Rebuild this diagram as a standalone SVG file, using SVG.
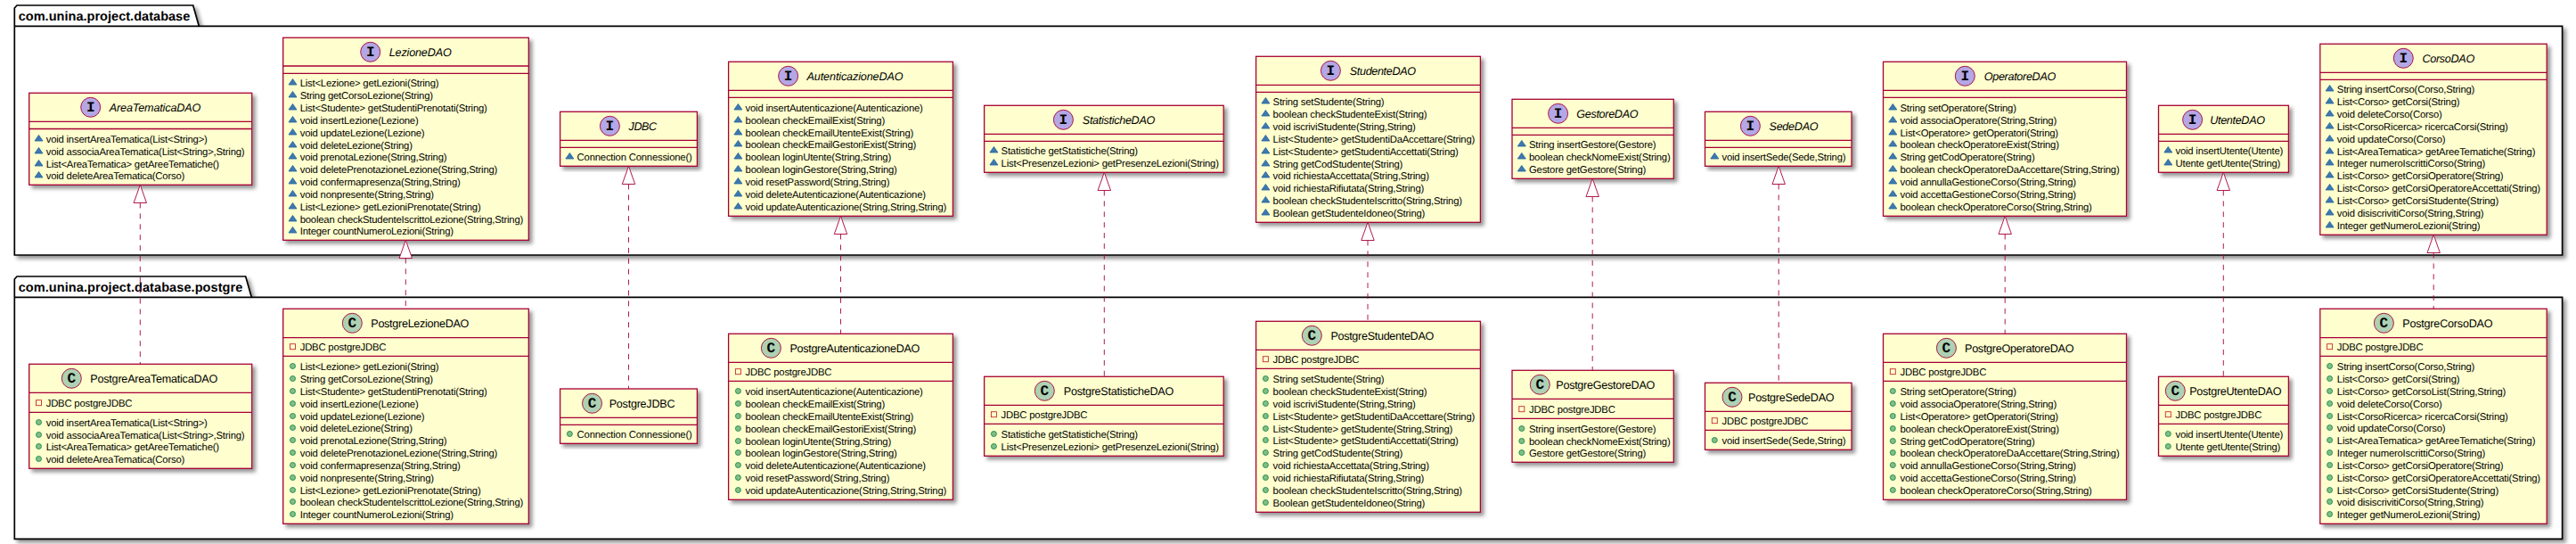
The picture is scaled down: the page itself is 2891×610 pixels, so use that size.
<svg xmlns="http://www.w3.org/2000/svg" width="2891" height="610" viewBox="0 0 2891 610">
<style>
text{font-family:"Liberation Sans","DejaVu Sans",sans-serif;fill:#000;text-rendering:geometricPrecision}
.m{font-size:11.3px;letter-spacing:-.2px}
.n{font-size:12.6px}
.i{font-style:italic}
.p{font-size:14.5px;font-weight:bold}
.gl{font-family:"Liberation Mono","DejaVu Sans Mono",monospace;font-weight:bold;font-size:16px;text-anchor:middle}
.b{fill:#FEFECE;stroke:#A80036;stroke-width:1.3;filter:url(#sh)}
.d{stroke:#A80036;stroke-width:1.3;fill:none}
.ci{fill:#B4A7E5;stroke:#A80036;stroke-width:.9}
.cc{fill:#ADD1B2;stroke:#A80036;stroke-width:.9}
.pk{fill:#fff;stroke:#000;stroke-width:1.7;filter:url(#sh)}
.pl{fill:none;stroke:#000;stroke-width:1.7}
.c{stroke:#A80036;stroke-width:.9;stroke-dasharray:5.95 5.95;fill:none}
.a{fill:#fff;stroke:#A80036;stroke-width:.9}
</style>
<defs>
<filter id="sh" x="-5%" y="-5%" width="110%" height="115%"><feDropShadow dx="3.5" dy="3.5" stdDeviation="2" flood-color="#000" flood-opacity="0.42"/></filter>
<polygon id="t" points="0,-4.5 -4.5,2 4.5,2" fill="#4177AF" stroke="#1963A0" stroke-width=".8"/>
<circle id="o" cx="0" cy="-0.5" r="3" fill="#84BE84" stroke="#038048" stroke-width=".8"/>
<rect id="s" x="-3" y="-3.3" width="6" height="6" fill="none" stroke="#C82930" stroke-width=".9"/>
</defs>
<rect width="2891" height="610" fill="#fff"/>
<g id="pkg-database">
<path class="pk" d="M16.3,29.3 V9 L19,6 H216.7 L223.3,29.3 H2875.6 V286 H16.3 Z"/>
<path class="pl" d="M16.3,29.3 H223.3"/>
<text class="p" x="20.7" y="23" textLength="192.6">com.unina.project.database</text>
</g>
<g id="pkg-postgre">
<path class="pk" d="M16.3,333.3 V313 L19,310 H275.7 L282.3,333.3 H2875.6 V604.3 H16.3 Z"/>
<path class="pl" d="M16.3,333.3 H282.3"/>
<text class="p" x="20.7" y="327" textLength="251.6">com.unina.project.database.postgre</text>
</g>

<g id="AreaTematicaDAO">
<rect class="b" x="32.7" y="104.3" width="250" height="103"/>
<path class="d" d="M32.7,136.3H282.7M32.7,144.5H282.7"/>
<circle class="ci" cx="101.7" cy="120.3" r="11"/><text class="gl" x="101.7" y="125">I</text>
<text class="n i" x="122.7" y="125" textLength="102.6">AreaTematicaDAO</text>
<use href="#t" x="43.5" y="156"/><text class="m" x="51.7" y="160">void insertAreaTematica(List&lt;String&gt;)</text>
<use href="#t" x="43.5" y="170"/><text class="m" x="51.7" y="174">void associaAreaTematica(List&lt;String&gt;,String)</text>
<use href="#t" x="43.5" y="184"/><text class="m" x="51.7" y="188">List&lt;AreaTematica&gt; getAreeTematiche()</text>
<use href="#t" x="43.5" y="197"/><text class="m" x="51.7" y="201">void deleteAreaTematica(Corso)</text>
</g>
<g id="LezioneDAO">
<rect class="b" x="317.7" y="42.3" width="275.6" height="227"/>
<path class="d" d="M317.7,74H593.3M317.7,82.3H593.3"/>
<circle class="ci" cx="415.7" cy="58.3" r="11"/><text class="gl" x="415.7" y="63">I</text>
<text class="n i" x="436.7" y="63" textLength="70">LezioneDAO</text>
<use href="#t" x="328.5" y="93"/><text class="m" x="336.7" y="97">List&lt;Lezione&gt; getLezioni(String)</text>
<use href="#t" x="328.5" y="107"/><text class="m" x="336.7" y="111">String getCorsoLezione(String)</text>
<use href="#t" x="328.5" y="121"/><text class="m" x="336.7" y="125">List&lt;Studente&gt; getStudentiPrenotati(String)</text>
<use href="#t" x="328.5" y="135"/><text class="m" x="336.7" y="139">void insertLezione(Lezione)</text>
<use href="#t" x="328.5" y="149"/><text class="m" x="336.7" y="153">void updateLezione(Lezione)</text>
<use href="#t" x="328.5" y="163"/><text class="m" x="336.7" y="167">void deleteLezione(String)</text>
<use href="#t" x="328.5" y="176"/><text class="m" x="336.7" y="180">void prenotaLezione(String,String)</text>
<use href="#t" x="328.5" y="190"/><text class="m" x="336.7" y="194">void deletePrenotazioneLezione(String,String)</text>
<use href="#t" x="328.5" y="204"/><text class="m" x="336.7" y="208">void confermapresenza(String,String)</text>
<use href="#t" x="328.5" y="218"/><text class="m" x="336.7" y="222">void nonpresente(String,String)</text>
<use href="#t" x="328.5" y="232"/><text class="m" x="336.7" y="236">List&lt;Lezione&gt; getLezioniPrenotate(String)</text>
<use href="#t" x="328.5" y="246"/><text class="m" x="336.7" y="250">boolean checkStudenteIscrittoLezione(String,String)</text>
<use href="#t" x="328.5" y="259"/><text class="m" x="336.7" y="263">Integer countNumeroLezioni(String)</text>
</g>
<g id="JDBC">
<rect class="b" x="628.6" y="125.3" width="153.8" height="61"/>
<path class="d" d="M628.6,157.3H782.4M628.6,165.3H782.4"/>
<circle class="ci" cx="684.4" cy="141.3" r="11"/><text class="gl" x="684.4" y="146">I</text>
<text class="n i" x="705.5" y="146" textLength="31.7">JDBC</text>
<use href="#t" x="639.4" y="176"/><text class="m" x="647.6" y="180">Connection Connessione()</text>
</g>
<g id="AutenticazioneDAO">
<rect class="b" x="817.6" y="69.3" width="251.8" height="173"/>
<path class="d" d="M817.6,101.3H1069.4M817.6,109.3H1069.4"/>
<circle class="ci" cx="884.6" cy="85.3" r="11"/><text class="gl" x="884.6" y="90">I</text>
<text class="n i" x="905.6" y="90" textLength="107.9">AutenticazioneDAO</text>
<use href="#t" x="828.4" y="121"/><text class="m" x="836.6" y="125">void insertAutenticazione(Autenticazione)</text>
<use href="#t" x="828.4" y="135"/><text class="m" x="836.6" y="139">boolean checkEmailExist(String)</text>
<use href="#t" x="828.4" y="149"/><text class="m" x="836.6" y="153">boolean checkEmailUtenteExist(String)</text>
<use href="#t" x="828.4" y="162"/><text class="m" x="836.6" y="166">boolean checkEmailGestoriExist(String)</text>
<use href="#t" x="828.4" y="176"/><text class="m" x="836.6" y="180">boolean loginUtente(String,String)</text>
<use href="#t" x="828.4" y="190"/><text class="m" x="836.6" y="194">boolean loginGestore(String,String)</text>
<use href="#t" x="828.4" y="204"/><text class="m" x="836.6" y="208">void resetPassword(String,String)</text>
<use href="#t" x="828.4" y="218"/><text class="m" x="836.6" y="222">void deleteAutenticazione(Autenticazione)</text>
<use href="#t" x="828.4" y="232"/><text class="m" x="836.6" y="236">void updateAutenticazione(String,String,String)</text>
</g>
<g id="StatisticheDAO">
<rect class="b" x="1104.6" y="118.3" width="268.6" height="75"/>
<path class="d" d="M1104.6,150.3H1373.2M1104.6,158.3H1373.2"/>
<circle class="ci" cx="1193.4" cy="134.3" r="11"/><text class="gl" x="1193.4" y="139">I</text>
<text class="n i" x="1214.8" y="139" textLength="81.5">StatisticheDAO</text>
<use href="#t" x="1115.4" y="169"/><text class="m" x="1123.6" y="173">Statistiche getStatistiche(String)</text>
<use href="#t" x="1115.4" y="183"/><text class="m" x="1123.6" y="187">List&lt;PresenzeLezioni&gt; getPresenzeLezioni(String)</text>
</g>
<g id="StudenteDAO">
<rect class="b" x="1409.6" y="63.3" width="251.8" height="186"/>
<path class="d" d="M1409.6,95.3H1661.4M1409.6,103.3H1661.4"/>
<circle class="ci" cx="1493.4" cy="79.3" r="11"/><text class="gl" x="1493.4" y="84">I</text>
<text class="n i" x="1514.8" y="84" textLength="74.2">StudenteDAO</text>
<use href="#t" x="1420.4" y="114"/><text class="m" x="1428.6" y="118">String setStudente(String)</text>
<use href="#t" x="1420.4" y="128"/><text class="m" x="1428.6" y="132">boolean checkStudenteExist(String)</text>
<use href="#t" x="1420.4" y="142"/><text class="m" x="1428.6" y="146">void iscriviStudente(String,String)</text>
<use href="#t" x="1420.4" y="156"/><text class="m" x="1428.6" y="160">List&lt;Studente&gt; getStudentiDaAccettare(String)</text>
<use href="#t" x="1420.4" y="170"/><text class="m" x="1428.6" y="174">List&lt;Studente&gt; getStudentiAccettati(String)</text>
<use href="#t" x="1420.4" y="184"/><text class="m" x="1428.6" y="188">String getCodStudente(String)</text>
<use href="#t" x="1420.4" y="197"/><text class="m" x="1428.6" y="201">void richiestaAccettata(String,String)</text>
<use href="#t" x="1420.4" y="211"/><text class="m" x="1428.6" y="215">void richiestaRifiutata(String,String)</text>
<use href="#t" x="1420.4" y="225"/><text class="m" x="1428.6" y="229">boolean checkStudenteIscritto(String,String)</text>
<use href="#t" x="1420.4" y="239"/><text class="m" x="1428.6" y="243">Boolean getStudenteIdoneo(String)</text>
</g>
<g id="GestoreDAO">
<rect class="b" x="1697" y="111.3" width="181.3" height="89"/>
<path class="d" d="M1697,143.3H1878.3M1697,151.3H1878.3"/>
<circle class="ci" cx="1748.6" cy="127.3" r="11"/><text class="gl" x="1748.6" y="132">I</text>
<text class="n i" x="1769.3" y="132" textLength="69.2">GestoreDAO</text>
<use href="#t" x="1707.8" y="162"/><text class="m" x="1716" y="166">String insertGestore(Gestore)</text>
<use href="#t" x="1707.8" y="176"/><text class="m" x="1716" y="180">boolean checkNomeExist(String)</text>
<use href="#t" x="1707.8" y="190"/><text class="m" x="1716" y="194">Gestore getGestore(String)</text>
</g>
<g id="SedeDAO">
<rect class="b" x="1913.5" y="125.3" width="164.5" height="61"/>
<path class="d" d="M1913.5,157.3H2078M1913.5,165.3H2078"/>
<circle class="ci" cx="1964.4" cy="141.3" r="11"/><text class="gl" x="1964.4" y="146">I</text>
<text class="n i" x="1985.5" y="146" textLength="55.1">SedeDAO</text>
<use href="#t" x="1924.3" y="176"/><text class="m" x="1932.5" y="180">void insertSede(Sede,String)</text>
</g>
<g id="OperatoreDAO">
<rect class="b" x="2113.5" y="69.3" width="273" height="173"/>
<path class="d" d="M2113.5,101.3H2386.5M2113.5,109.3H2386.5"/>
<circle class="ci" cx="2205.3" cy="85.3" r="11"/><text class="gl" x="2205.3" y="90">I</text>
<text class="n i" x="2226.7" y="90" textLength="80.6">OperatoreDAO</text>
<use href="#t" x="2124.3" y="121"/><text class="m" x="2132.5" y="125">String setOperatore(String)</text>
<use href="#t" x="2124.3" y="135"/><text class="m" x="2132.5" y="139">void associaOperatore(String,String)</text>
<use href="#t" x="2124.3" y="149"/><text class="m" x="2132.5" y="153">List&lt;Operatore&gt; getOperatori(String)</text>
<use href="#t" x="2124.3" y="162"/><text class="m" x="2132.5" y="166">boolean checkOperatoreExist(String)</text>
<use href="#t" x="2124.3" y="176"/><text class="m" x="2132.5" y="180">String getCodOperatore(String)</text>
<use href="#t" x="2124.3" y="190"/><text class="m" x="2132.5" y="194">boolean checkOperatoreDaAccettare(String,String)</text>
<use href="#t" x="2124.3" y="204"/><text class="m" x="2132.5" y="208">void annullaGestioneCorso(String,String)</text>
<use href="#t" x="2124.3" y="218"/><text class="m" x="2132.5" y="222">void accettaGestioneCorso(String,String)</text>
<use href="#t" x="2124.3" y="232"/><text class="m" x="2132.5" y="236">boolean checkOperatoreCorso(String,String)</text>
</g>
<g id="UtenteDAO">
<rect class="b" x="2422.5" y="118.3" width="145.9" height="75"/>
<path class="d" d="M2422.5,150.3H2568.4M2422.5,158.3H2568.4"/>
<circle class="ci" cx="2460.6" cy="134.3" r="11"/><text class="gl" x="2460.6" y="139">I</text>
<text class="n i" x="2480.2" y="139" textLength="61.8">UtenteDAO</text>
<use href="#t" x="2433.3" y="169"/><text class="m" x="2441.5" y="173">void insertUtente(Utente)</text>
<use href="#t" x="2433.3" y="183"/><text class="m" x="2441.5" y="187">Utente getUtente(String)</text>
</g>
<g id="CorsoDAO">
<rect class="b" x="2603.8" y="49.3" width="254.4" height="214"/>
<path class="d" d="M2603.8,81.3H2858.2M2603.8,89.3H2858.2"/>
<circle class="ci" cx="2697.3" cy="65.3" r="11"/><text class="gl" x="2697.3" y="70">I</text>
<text class="n i" x="2718.4" y="70" textLength="58.8">CorsoDAO</text>
<use href="#t" x="2614.6" y="100"/><text class="m" x="2622.8" y="104">String insertCorso(Corso,String)</text>
<use href="#t" x="2614.6" y="114"/><text class="m" x="2622.8" y="118">List&lt;Corso&gt; getCorsi(String)</text>
<use href="#t" x="2614.6" y="128"/><text class="m" x="2622.8" y="132">void deleteCorso(Corso)</text>
<use href="#t" x="2614.6" y="142"/><text class="m" x="2622.8" y="146">List&lt;CorsoRicerca&gt; ricercaCorsi(String)</text>
<use href="#t" x="2614.6" y="156"/><text class="m" x="2622.8" y="160">void updateCorso(Corso)</text>
<use href="#t" x="2614.6" y="170"/><text class="m" x="2622.8" y="174">List&lt;AreaTematica&gt; getAreeTematiche(String)</text>
<use href="#t" x="2614.6" y="183"/><text class="m" x="2622.8" y="187">Integer numeroIscrittiCorso(String)</text>
<use href="#t" x="2614.6" y="197"/><text class="m" x="2622.8" y="201">List&lt;Corso&gt; getCorsiOperatore(String)</text>
<use href="#t" x="2614.6" y="211"/><text class="m" x="2622.8" y="215">List&lt;Corso&gt; getCorsiOperatoreAccettati(String)</text>
<use href="#t" x="2614.6" y="225"/><text class="m" x="2622.8" y="229">List&lt;Corso&gt; getCorsiStudente(String)</text>
<use href="#t" x="2614.6" y="239"/><text class="m" x="2622.8" y="243">void disiscrivitiCorso(String,String)</text>
<use href="#t" x="2614.6" y="253"/><text class="m" x="2622.8" y="257">Integer getNumeroLezioni(String)</text>
</g>

<g id="PostgreAreaTematicaDAO">
<rect class="b" x="32.7" y="408.3" width="250" height="117"/>
<path class="d" d="M32.7,440.3H282.7M32.7,462.3H282.7"/>
<circle class="cc" cx="80.3" cy="424.3" r="11"/><text class="gl" x="80.3" y="429">C</text>
<text class="n" x="101.3" y="429" textLength="143">PostgreAreaTematicaDAO</text>
<use href="#s" x="43.5" y="452"/><text class="m" x="51.7" y="456">JDBC postgreJDBC</text>
<use href="#o" x="43.5" y="474"/><text class="m" x="51.7" y="478">void insertAreaTematica(List&lt;String&gt;)</text>
<use href="#o" x="43.5" y="488"/><text class="m" x="51.7" y="492">void associaAreaTematica(List&lt;String&gt;,String)</text>
<use href="#o" x="43.5" y="501"/><text class="m" x="51.7" y="505">List&lt;AreaTematica&gt; getAreeTematiche()</text>
<use href="#o" x="43.5" y="515"/><text class="m" x="51.7" y="519">void deleteAreaTematica(Corso)</text>
</g>
<g id="PostgreLezioneDAO">
<rect class="b" x="317.7" y="346.3" width="275.6" height="241"/>
<path class="d" d="M317.7,378.7H593.3M317.7,399.3H593.3"/>
<circle class="cc" cx="395.3" cy="362.3" r="11"/><text class="gl" x="395.3" y="367">C</text>
<text class="n" x="416.3" y="367" textLength="110.1">PostgreLezioneDAO</text>
<use href="#s" x="328.5" y="389"/><text class="m" x="336.7" y="393">JDBC postgreJDBC</text>
<use href="#o" x="328.5" y="411"/><text class="m" x="336.7" y="415">List&lt;Lezione&gt; getLezioni(String)</text>
<use href="#o" x="328.5" y="425"/><text class="m" x="336.7" y="429">String getCorsoLezione(String)</text>
<use href="#o" x="328.5" y="439"/><text class="m" x="336.7" y="443">List&lt;Studente&gt; getStudentiPrenotati(String)</text>
<use href="#o" x="328.5" y="453"/><text class="m" x="336.7" y="457">void insertLezione(Lezione)</text>
<use href="#o" x="328.5" y="467"/><text class="m" x="336.7" y="471">void updateLezione(Lezione)</text>
<use href="#o" x="328.5" y="480"/><text class="m" x="336.7" y="484">void deleteLezione(String)</text>
<use href="#o" x="328.5" y="494"/><text class="m" x="336.7" y="498">void prenotaLezione(String,String)</text>
<use href="#o" x="328.5" y="508"/><text class="m" x="336.7" y="512">void deletePrenotazioneLezione(String,String)</text>
<use href="#o" x="328.5" y="522"/><text class="m" x="336.7" y="526">void confermapresenza(String,String)</text>
<use href="#o" x="328.5" y="536"/><text class="m" x="336.7" y="540">void nonpresente(String,String)</text>
<use href="#o" x="328.5" y="550"/><text class="m" x="336.7" y="554">List&lt;Lezione&gt; getLezioniPrenotate(String)</text>
<use href="#o" x="328.5" y="563"/><text class="m" x="336.7" y="567">boolean checkStudenteIscrittoLezione(String,String)</text>
<use href="#o" x="328.5" y="577"/><text class="m" x="336.7" y="581">Integer countNumeroLezioni(String)</text>
</g>
<g id="PostgreJDBC">
<rect class="b" x="628.6" y="436" width="153.8" height="61.3"/>
<path class="d" d="M628.6,468.3H782.4M628.6,476.3H782.4"/>
<circle class="cc" cx="664.5" cy="452.3" r="11"/><text class="gl" x="664.5" y="457">C</text>
<text class="n" x="683.7" y="457" textLength="73.8">PostgreJDBC</text>
<use href="#o" x="639.4" y="487"/><text class="m" x="647.6" y="491">Connection Connessione()</text>
</g>
<g id="PostgreAutenticazioneDAO">
<rect class="b" x="817.6" y="374.3" width="251.8" height="186"/>
<path class="d" d="M817.6,406.3H1069.4M817.6,427.3H1069.4"/>
<circle class="cc" cx="865.4" cy="390.3" r="11"/><text class="gl" x="865.4" y="395">C</text>
<text class="n" x="886.5" y="395" textLength="145.8">PostgreAutenticazioneDAO</text>
<use href="#s" x="828.4" y="417"/><text class="m" x="836.6" y="421">JDBC postgreJDBC</text>
<use href="#o" x="828.4" y="439"/><text class="m" x="836.6" y="443">void insertAutenticazione(Autenticazione)</text>
<use href="#o" x="828.4" y="453"/><text class="m" x="836.6" y="457">boolean checkEmailExist(String)</text>
<use href="#o" x="828.4" y="467"/><text class="m" x="836.6" y="471">boolean checkEmailUtenteExist(String)</text>
<use href="#o" x="828.4" y="481"/><text class="m" x="836.6" y="485">boolean checkEmailGestoriExist(String)</text>
<use href="#o" x="828.4" y="495"/><text class="m" x="836.6" y="499">boolean loginUtente(String,String)</text>
<use href="#o" x="828.4" y="508"/><text class="m" x="836.6" y="512">boolean loginGestore(String,String)</text>
<use href="#o" x="828.4" y="522"/><text class="m" x="836.6" y="526">void deleteAutenticazione(Autenticazione)</text>
<use href="#o" x="828.4" y="536"/><text class="m" x="836.6" y="540">void resetPassword(String,String)</text>
<use href="#o" x="828.4" y="550"/><text class="m" x="836.6" y="554">void updateAutenticazione(String,String,String)</text>
</g>
<g id="PostgreStatisticheDAO">
<rect class="b" x="1104.6" y="422.3" width="268.6" height="89"/>
<path class="d" d="M1104.6,454.3H1373.2M1104.6,475.3H1373.2"/>
<circle class="cc" cx="1172.3" cy="438.3" r="11"/><text class="gl" x="1172.3" y="443">C</text>
<text class="n" x="1193.8" y="443" textLength="123.5">PostgreStatisticheDAO</text>
<use href="#s" x="1115.4" y="465"/><text class="m" x="1123.6" y="469">JDBC postgreJDBC</text>
<use href="#o" x="1115.4" y="487"/><text class="m" x="1123.6" y="491">Statistiche getStatistiche(String)</text>
<use href="#o" x="1115.4" y="501"/><text class="m" x="1123.6" y="505">List&lt;PresenzeLezioni&gt; getPresenzeLezioni(String)</text>
</g>
<g id="PostgreStudenteDAO">
<rect class="b" x="1409.6" y="360.3" width="251.8" height="214"/>
<path class="d" d="M1409.6,392.3H1661.4M1409.6,413.3H1661.4"/>
<circle class="cc" cx="1472.3" cy="376.3" r="11"/><text class="gl" x="1472.3" y="381">C</text>
<text class="n" x="1493.4" y="381" textLength="115.9">PostgreStudenteDAO</text>
<use href="#s" x="1420.4" y="403"/><text class="m" x="1428.6" y="407">JDBC postgreJDBC</text>
<use href="#o" x="1420.4" y="425"/><text class="m" x="1428.6" y="429">String setStudente(String)</text>
<use href="#o" x="1420.4" y="439"/><text class="m" x="1428.6" y="443">boolean checkStudenteExist(String)</text>
<use href="#o" x="1420.4" y="453"/><text class="m" x="1428.6" y="457">void iscriviStudente(String,String)</text>
<use href="#o" x="1420.4" y="467"/><text class="m" x="1428.6" y="471">List&lt;Studente&gt; getStudentiDaAccettare(String)</text>
<use href="#o" x="1420.4" y="481"/><text class="m" x="1428.6" y="485">List&lt;Studente&gt; getStudente(String,String)</text>
<use href="#o" x="1420.4" y="494"/><text class="m" x="1428.6" y="498">List&lt;Studente&gt; getStudentiAccettati(String)</text>
<use href="#o" x="1420.4" y="508"/><text class="m" x="1428.6" y="512">String getCodStudente(String)</text>
<use href="#o" x="1420.4" y="522"/><text class="m" x="1428.6" y="526">void richiestaAccettata(String,String)</text>
<use href="#o" x="1420.4" y="536"/><text class="m" x="1428.6" y="540">void richiestaRifiutata(String,String)</text>
<use href="#o" x="1420.4" y="550"/><text class="m" x="1428.6" y="554">boolean checkStudenteIscritto(String,String)</text>
<use href="#o" x="1420.4" y="564"/><text class="m" x="1428.6" y="568">Boolean getStudenteIdoneo(String)</text>
</g>
<g id="PostgreGestoreDAO">
<rect class="b" x="1697" y="415.3" width="181.3" height="103"/>
<path class="d" d="M1697,447.3H1878.3M1697,469.3H1878.3"/>
<circle class="cc" cx="1728.3" cy="431.3" r="11"/><text class="gl" x="1728.3" y="436">C</text>
<text class="n" x="1746.3" y="436" textLength="111">PostgreGestoreDAO</text>
<use href="#s" x="1707.8" y="459"/><text class="m" x="1716" y="463">JDBC postgreJDBC</text>
<use href="#o" x="1707.8" y="481"/><text class="m" x="1716" y="485">String insertGestore(Gestore)</text>
<use href="#o" x="1707.8" y="495"/><text class="m" x="1716" y="499">boolean checkNomeExist(String)</text>
<use href="#o" x="1707.8" y="508"/><text class="m" x="1716" y="512">Gestore getGestore(String)</text>
</g>
<g id="PostgreSedeDAO">
<rect class="b" x="1913.5" y="429.3" width="164.5" height="75"/>
<path class="d" d="M1913.5,461.3H2078M1913.5,482.3H2078"/>
<circle class="cc" cx="1944" cy="445.3" r="11"/><text class="gl" x="1944" y="450">C</text>
<text class="n" x="1962" y="450" textLength="96.6">PostgreSedeDAO</text>
<use href="#s" x="1924.3" y="472"/><text class="m" x="1932.5" y="476">JDBC postgreJDBC</text>
<use href="#o" x="1924.3" y="494"/><text class="m" x="1932.5" y="498">void insertSede(Sede,String)</text>
</g>
<g id="PostgreOperatoreDAO">
<rect class="b" x="2113.5" y="374.3" width="273" height="186"/>
<path class="d" d="M2113.5,406.3H2386.5M2113.5,427.3H2386.5"/>
<circle class="cc" cx="2184.4" cy="390.3" r="11"/><text class="gl" x="2184.4" y="395">C</text>
<text class="n" x="2205" y="395" textLength="122.5">PostgreOperatoreDAO</text>
<use href="#s" x="2124.3" y="417"/><text class="m" x="2132.5" y="421">JDBC postgreJDBC</text>
<use href="#o" x="2124.3" y="439"/><text class="m" x="2132.5" y="443">String setOperatore(String)</text>
<use href="#o" x="2124.3" y="453"/><text class="m" x="2132.5" y="457">void associaOperatore(String,String)</text>
<use href="#o" x="2124.3" y="467"/><text class="m" x="2132.5" y="471">List&lt;Operatore&gt; getOperatori(String)</text>
<use href="#o" x="2124.3" y="481"/><text class="m" x="2132.5" y="485">boolean checkOperatoreExist(String)</text>
<use href="#o" x="2124.3" y="495"/><text class="m" x="2132.5" y="499">String getCodOperatore(String)</text>
<use href="#o" x="2124.3" y="508"/><text class="m" x="2132.5" y="512">boolean checkOperatoreDaAccettare(String,String)</text>
<use href="#o" x="2124.3" y="522"/><text class="m" x="2132.5" y="526">void annullaGestioneCorso(String,String)</text>
<use href="#o" x="2124.3" y="536"/><text class="m" x="2132.5" y="540">void accettaGestioneCorso(String,String)</text>
<use href="#o" x="2124.3" y="550"/><text class="m" x="2132.5" y="554">boolean checkOperatoreCorso(String,String)</text>
</g>
<g id="PostgreUtenteDAO">
<rect class="b" x="2422.5" y="422.3" width="145.9" height="89"/>
<path class="d" d="M2422.5,454.3H2568.4M2422.5,475.3H2568.4"/>
<circle class="cc" cx="2441.3" cy="438.3" r="11"/><text class="gl" x="2441.3" y="443">C</text>
<text class="n" x="2457.2" y="443" textLength="103.3">PostgreUtenteDAO</text>
<use href="#s" x="2433.3" y="465"/><text class="m" x="2441.5" y="469">JDBC postgreJDBC</text>
<use href="#o" x="2433.3" y="487"/><text class="m" x="2441.5" y="491">void insertUtente(Utente)</text>
<use href="#o" x="2433.3" y="501"/><text class="m" x="2441.5" y="505">Utente getUtente(String)</text>
</g>
<g id="PostgreCorsoDAO">
<rect class="b" x="2603.8" y="346.3" width="254.4" height="241"/>
<path class="d" d="M2603.8,378.7H2858.2M2603.8,399.3H2858.2"/>
<circle class="cc" cx="2675.4" cy="362.3" r="11"/><text class="gl" x="2675.4" y="367">C</text>
<text class="n" x="2696.2" y="367" textLength="101.4">PostgreCorsoDAO</text>
<use href="#s" x="2614.6" y="389"/><text class="m" x="2622.8" y="393">JDBC postgreJDBC</text>
<use href="#o" x="2614.6" y="411"/><text class="m" x="2622.8" y="415">String insertCorso(Corso,String)</text>
<use href="#o" x="2614.6" y="425"/><text class="m" x="2622.8" y="429">List&lt;Corso&gt; getCorsi(String)</text>
<use href="#o" x="2614.6" y="439"/><text class="m" x="2622.8" y="443">List&lt;Corso&gt; getCorsoList(String,String)</text>
<use href="#o" x="2614.6" y="453"/><text class="m" x="2622.8" y="457">void deleteCorso(Corso)</text>
<use href="#o" x="2614.6" y="467"/><text class="m" x="2622.8" y="471">List&lt;CorsoRicerca&gt; ricercaCorsi(String)</text>
<use href="#o" x="2614.6" y="480"/><text class="m" x="2622.8" y="484">void updateCorso(Corso)</text>
<use href="#o" x="2614.6" y="494"/><text class="m" x="2622.8" y="498">List&lt;AreaTematica&gt; getAreeTematiche(String)</text>
<use href="#o" x="2614.6" y="508"/><text class="m" x="2622.8" y="512">Integer numeroIscrittiCorso(String)</text>
<use href="#o" x="2614.6" y="522"/><text class="m" x="2622.8" y="526">List&lt;Corso&gt; getCorsiOperatore(String)</text>
<use href="#o" x="2614.6" y="536"/><text class="m" x="2622.8" y="540">List&lt;Corso&gt; getCorsiOperatoreAccettati(String)</text>
<use href="#o" x="2614.6" y="550"/><text class="m" x="2622.8" y="554">List&lt;Corso&gt; getCorsiStudente(String)</text>
<use href="#o" x="2614.6" y="563"/><text class="m" x="2622.8" y="567">void disiscrivitiCorso(String,String)</text>
<use href="#o" x="2614.6" y="577"/><text class="m" x="2622.8" y="581">Integer getNumeroLezioni(String)</text>
</g>

<g id="connectors">
<path class="c" d="M157.3,227.5V408.3"/><polygon class="a" points="157.3,207.3 150.1,227.5 164.5,227.5"/>
<path class="c" d="M455.3,289.5V346.3"/><polygon class="a" points="455.3,269.3 448.1,289.5 462.5,289.5"/>
<path class="c" d="M705.5,206.5V436"/><polygon class="a" points="705.5,186.3 698.3,206.5 712.7,206.5"/>
<path class="c" d="M943.5,262.5V374.3"/><polygon class="a" points="943.5,242.3 936.3,262.5 950.7,262.5"/>
<path class="c" d="M1239.3,213.5V422.3"/><polygon class="a" points="1239.3,193.3 1232.1,213.5 1246.5,213.5"/>
<path class="c" d="M1535,269.5V360.3"/><polygon class="a" points="1535,249.3 1527.8,269.5 1542.2,269.5"/>
<path class="c" d="M1787.2,220.5V415.3"/><polygon class="a" points="1787.2,200.3 1780,220.5 1794.4,220.5"/>
<path class="c" d="M1996.2,206.5V429.3"/><polygon class="a" points="1996.2,186.3 1989,206.5 2003.4,206.5"/>
<path class="c" d="M2250.2,262.5V374.3"/><polygon class="a" points="2250.2,242.3 2243,262.5 2257.4,262.5"/>
<path class="c" d="M2495.3,213.5V422.3"/><polygon class="a" points="2495.3,193.3 2488.1,213.5 2502.5,213.5"/>
<path class="c" d="M2731.2,283.5V346.3"/><polygon class="a" points="2731.2,263.3 2724,283.5 2738.4,283.5"/>
</g>
</svg>
